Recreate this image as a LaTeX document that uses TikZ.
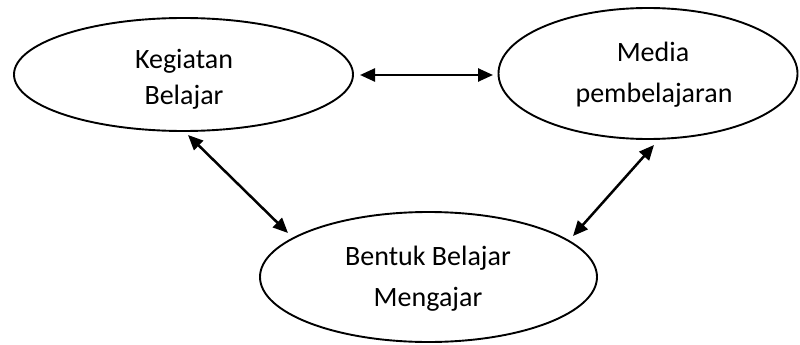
\documentclass[tikz,border=0pt]{standalone}
\usepackage{fontspec}
\setmainfont{Carlito}
\usetikzlibrary{arrows.meta,shapes.geometric,calc}
\begin{document}
\begin{tikzpicture}[x=1pt,y=-1pt,
  ell/.style={draw,ellipse,line width=1.9pt,inner sep=0pt},
  lbl/.style={anchor=base,inner sep=0pt,font=\fontsize{28}{34}\selectfont},
  arr/.style={line width=2.5pt,{Triangle[length=15pt,width=13pt]}-{Triangle[length=15pt,width=13pt]}}]
\useasboundingbox (0,0) rectangle (800,345);
\node[ell,minimum width=339pt,minimum height=113pt] (keg) at (183.5,74.5) {};
\node[ell,minimum width=299pt,minimum height=131pt] (med) at (648,73.5) {};
\node[ell,minimum width=337pt,minimum height=130pt] (ben) at (428.5,277) {};
\node[lbl] (t1) at (184,69) {Kegiatan};
\node[lbl] (t2) at (184,104) {Belajar};
\node[lbl] (t3) at (653,62) {Media};
\node[lbl] (t4) at (654,102) {pembelajaran};
\node[lbl] (t5) at (428,265) {Bentuk Belajar};
\node[lbl] (t6) at (428,306) {Mengajar};
\draw[arr] ($(keg.center)+(176.5,0.5)$) -- ($(med.center)+(-155,1.5)$);
\draw[arr] ($(keg.center)+(4.5,60.5)$) -- ($(ben.center)+(-140.5,-44)$);
\draw[arr] ($(med.center)+(6,71.5)$) -- ($(ben.center)+(144.5,-41)$);
\end{tikzpicture}
\end{document}
